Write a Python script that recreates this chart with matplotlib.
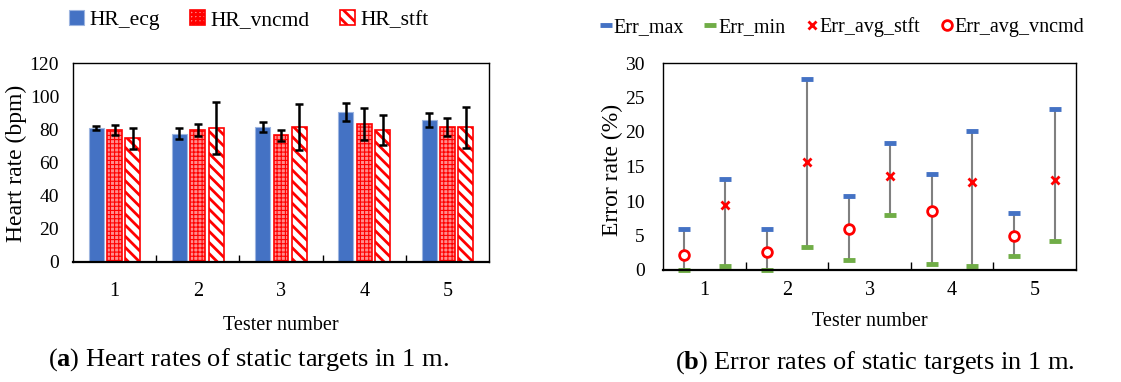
import matplotlib
matplotlib.use('Agg')
import matplotlib.pyplot as plt
from matplotlib.patches import Patch
import numpy as np

plt.rcParams['font.family'] = ['Liberation Serif', 'DejaVu Serif']
plt.rcParams['mathtext.fontset'] = 'custom'
plt.rcParams['mathtext.rm'] = 'Liberation Serif'
plt.rcParams['mathtext.bf'] = 'Liberation Serif:bold'
plt.rcParams['hatch.linewidth'] = 2.0

# (a) heart rates
testers = [1, 2, 3, 4, 5]
hr_ecg = [80.8, 77.4, 81.2, 90.6, 85.6]
hr_ecg_err = [1.1, 3.2, 3.0, 5.4, 4.0]
hr_vncmd = [79.6, 79.8, 76.4, 83.2, 81.4]
hr_vncmd_err = [2.8, 3.6, 3.4, 9.5, 5.5]
hr_stft = [74.6, 80.8, 81.2, 79.4, 81.2]
hr_stft_err = [6.2, 15.4, 13.8, 9.0, 12.4]

# (b) error rates
err_max_vncmd = [6.0, 6.0, 10.7, 13.85, 8.3]
err_min_vncmd = [0.0, 0.0, 1.5, 0.8, 2.1]
err_avg_vncmd = [2.2, 2.6, 5.9, 8.5, 5.0]
err_max_stft = [13.2, 27.7, 18.4, 20.15, 23.4]
err_min_stft = [0.6, 3.3, 7.9, 0.6, 4.2]
err_avg_stft = [9.4, 15.7, 13.6, 12.7, 13.1]

BLUE = '#4472C4'
GREEN = '#70AD47'
RED = '#FF0000'

W, H = 1121, 382
fig = plt.figure(figsize=(W / 100, H / 100), dpi=100)

def fig_ax(x0, y0, x1, y1):
    return fig.add_axes([x0 / W, 1 - y1 / H, (x1 - x0) / W, (y1 - y0) / H])

def thin_hatch(patches, lw):
    for p in patches:
        if hasattr(p, 'set_hatch_linewidth'):
            p.set_hatch_linewidth(lw)

x = np.array(testers)

# ---------- left chart ----------
ax1 = fig_ax(73, 63, 489, 262)
bw = 0.18
ekw = dict(ecolor='black', elinewidth=1.8, capsize=3, capthick=1.8, zorder=5)
b1 = ax1.bar(x - 0.22, hr_ecg, bw, color=BLUE,
             edgecolor='#9DB5E0', linewidth=0.8, label='HR_ecg')
b2 = ax1.bar(x, hr_vncmd, bw, color='#FF8C8C', edgecolor=RED, hatch='++++',
             linewidth=1.2, label='HR_vncmd')
thin_hatch(b2, 0.8)
b3 = ax1.bar(x + 0.22, hr_stft, bw, color='white',
             edgecolor=RED, hatch='\\\\\\', linewidth=1.2, label='HR_stft')
ax1.errorbar(x - 0.22, hr_ecg, yerr=hr_ecg_err, fmt='none', **ekw)
ax1.errorbar(x, hr_vncmd, yerr=hr_vncmd_err, fmt='none', **ekw)
ax1.errorbar(x + 0.22, hr_stft, yerr=hr_stft_err, fmt='none', **ekw)
ax1.set_xlim(0.5, 5.5)
ax1.set_ylim(0, 120)
ax1.set_yticks(range(0, 121, 20))
ax1.set_xticks([1.5, 2.5, 3.5, 4.5])
ax1.set_xticklabels([])
ax1.tick_params(axis='x', direction='in', length=5, width=1)
ax1.tick_params(axis='y', length=0, pad=10, labelsize=14)
for t in testers:
    ax1.text(t, -18, str(t), ha='center', va='center', fontsize=14.5)
ax1.text(3, -38.5, 'Tester number', ha='center', va='center', fontsize=14.5)
fig.text(16 / W, 1 - 163 / H, 'Heart rate (bpm)', rotation=90, ha='center', va='center',
         fontsize=17)
for s in ax1.spines.values():
    s.set_linewidth(1.0)
ax1.spines['bottom'].set_linewidth(1.6)

vn_patch = Patch(facecolor='#FF8C8C', edgecolor=RED, hatch='++++', linewidth=1.2,
                 label='HR_vncmd')
thin_hatch([vn_patch], 0.8)
fig.legend(handles=[b1, vn_patch, b3], loc='center', bbox_to_anchor=(249 / W, 1 - 20 / H),
           ncol=3, frameon=False, fontsize=15.5, handlelength=0.7, handleheight=0.7,
           handletextpad=0.25, columnspacing=1.4)

# ---------- right chart ----------
ax2 = fig_ax(663, 63, 1076, 270)
off = 0.245
xv = x - off
xs = x + off
ax2.vlines(xv, err_min_vncmd, err_max_vncmd, color='#808080', linewidth=1.5)
ax2.vlines(xs, err_min_stft, err_max_stft, color='#808080', linewidth=1.5)
mk = dict(linestyle='none', marker='_', markersize=8, markeredgewidth=3.5)
h_max, = ax2.plot(np.r_[xv, xs], err_max_vncmd + err_max_stft, color=BLUE, label='Err_max', **mk)
h_min, = ax2.plot(np.r_[xv, xs], err_min_vncmd + err_min_stft, color=GREEN, label='Err_min',
                  clip_on=False, **mk)
h_x, = ax2.plot(xs, err_avg_stft, linestyle='none', marker='x', markersize=6,
                markeredgewidth=2, color=RED, label='Err_avg_stft')
h_o, = ax2.plot(xv, err_avg_vncmd, linestyle='none', marker='o', markersize=7,
                markeredgewidth=2, markerfacecolor='white', color=RED, label='Err_avg_vncmd')
ax2.set_xlim(0.5, 5.5)
ax2.set_ylim(0, 30)
ax2.set_yticks(range(0, 31, 5))
ax2.set_xticks([1.5, 2.5, 3.5, 4.5])
ax2.set_xticklabels([])
ax2.tick_params(axis='x', direction='in', length=6, width=1)
ax2.tick_params(axis='y', length=0, pad=13, labelsize=14)
for t in testers:
    ax2.text(t, -3, str(t), ha='center', va='center', fontsize=14.5)
ax2.text(3, -7.5, 'Tester number', ha='center', va='center', fontsize=14.5)
fig.text(612 / W, 1 - 170 / H, 'Error rate (%)', rotation=90, ha='center', va='center',
         fontsize=17)
for s in ax2.spines.values():
    s.set_linewidth(1.0)
ax2.spines['bottom'].set_linewidth(1.6)

fig.legend(handles=[h_max, h_min, h_x, h_o], loc='center',
           bbox_to_anchor=(842 / W, 1 - 27 / H), ncol=4, frameon=False,
           fontsize=14.5, handlelength=0.6, handletextpad=0.1, columnspacing=1.0)

# ---------- captions ----------
fig.text(48 / W, 1 - 360 / H, r'($\mathbf{a}$) Heart rates of static targets in 1 m.',
         ha='left', va='center', fontsize=19)
fig.text(675 / W, 1 - 363 / H, r'($\mathbf{b}$) Error rates of static targets in 1 m.',
         ha='left', va='center', fontsize=19)

fig.savefig('out.png', dpi=100)
